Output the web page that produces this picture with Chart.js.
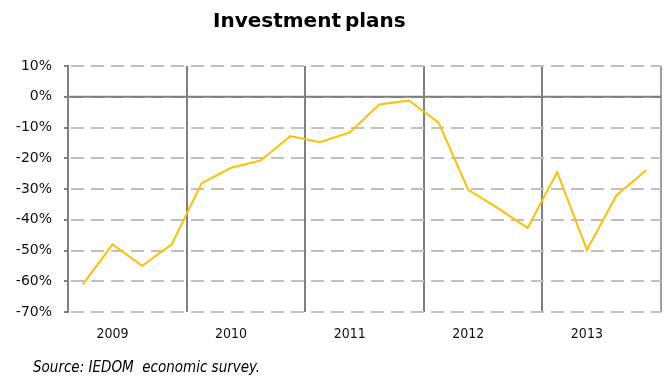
<!DOCTYPE html>
<html>
<head>
<meta charset="utf-8">
<script src="https://cdn.jsdelivr.net/npm/chart.js@4/dist/chart.umd.min.js"></script>
<style>
  html, body { margin: 0; padding: 0; background: #fff; }
  #wrap { position: relative; width: 668px; height: 376px; overflow: hidden; }
  #chart { position: absolute; left: 0; top: 0; }
  #title {
    position: absolute; left: 213px; top: 10px;
    font: bold 20px 'DejaVu Sans', sans-serif; line-height: 20px;
    word-spacing: -3px; color: #000; white-space: pre;
  }
  #source {
    position: absolute; left: 33px; top: 360px;
    font: italic 15px 'DejaVu Sans Condensed', 'DejaVu Sans', sans-serif; line-height: 15px;
    color: #000; white-space: pre;
  }
</style>
</head>
<body>
<div id="wrap">
  <canvas id="chart" width="668" height="376"></canvas>
  <div id="title">Investment plans</div>
  <div id="source">Source: IEDOM  economic survey.</div>
</div>
<script>
// Quarterly balance of investment plans, 2009–2013 (%)
const years = ['2009', '2010', '2011', '2012', '2013'];
const quarters = ['2009Q1', '2009Q2', '2009Q3', '2009Q4',
                  '2010Q1', '2010Q2', '2010Q3', '2010Q4',
                  '2011Q1', '2011Q2', '2011Q3', '2011Q4',
                  '2012Q1', '2012Q2', '2012Q3', '2012Q4',
                  '2013Q1', '2013Q2', '2013Q3', '2013Q4'];
const investmentPlans = [-61, -48, -55, -48,
                         -28.2, -23.1, -20.7, -12.8,
                         -14.8, -11.6, -2.5, -1.2,
                         -8.4, -30.3, -36.2, -42.7,
                         -24.5, -49.8, -32.0, -23.9];
const yTicks = [10, 0, -10, -20, -30, -40, -50, -60, -70];

const AXIS_GREY = '#808080';
const GRID_GREY = '#c0c0c0';

// Solid zero line over the dashed horizontal grid
const zeroLine = {
  id: 'zeroLine',
  beforeDatasetsDraw(chart) {
    const { ctx, chartArea, scales } = chart;
    const y = scales.y.getPixelForValue(0);
    ctx.save();
    ctx.strokeStyle = AXIS_GREY;
    ctx.lineWidth = 2;
    ctx.beginPath();
    ctx.moveTo(chartArea.left, y);
    ctx.lineTo(chartArea.right, y);
    ctx.stroke();
    ctx.restore();
  }
};

new Chart(document.getElementById('chart'), {
  type: 'line',
  data: {
    labels: quarters,
    datasets: [{
      data: investmentPlans,
      borderColor: '#ffc000',
      borderWidth: 2,
      pointRadius: 0,
      tension: 0,
      fill: false
    }]
  },
  options: {
    responsive: false,
    animation: false,
    devicePixelRatio: 1,
    layout: { padding: { left: 0, right: 7, top: 66, bottom: 0 } },
    plugins: { legend: { display: false }, tooltip: { enabled: false }, title: { display: false } },
    scales: {
      x: {
        type: 'category',
        offset: true,
        afterFit(scale) { scale.height = 64; },
        grid: {
          offset: true,
          drawTicks: false,
          lineWidth: 2,
          color(ctx) {
            if (ctx.index === undefined) return '#a0a0a0';
            return ctx.index % 4 === 0 ? AXIS_GREY : 'rgba(0,0,0,0)';
          }
        },
        border: { display: false },
        ticks: {
          autoSkip: false,
          maxRotation: 0,
          minRotation: 0,
          padding: 14,
          color: '#111',
          font: { family: "'DejaVu Sans Condensed', 'DejaVu Sans', sans-serif", size: 14 },
          callback(value, index) { return index % 4 === 1 ? years[Math.floor(index / 4)] : ''; }
        }
      },
      y: {
        min: -70,
        max: 10,
        afterFit(scale) { scale.width = 68; },
        afterBuildTicks(scale) { scale.ticks = yTicks.map(v => ({ value: v })); },
        grid: {
          lineWidth: 2,
          tickLength: 4,
          color(ctx) { return ctx.tick && ctx.tick.value === 0 ? AXIS_GREY : GRID_GREY; },
          tickColor: AXIS_GREY,
          tickWidth: 2
        },
        border: { display: true, color: AXIS_GREY, width: 2, dash: [13, 7], dashOffset: -2 },
        ticks: {
          padding: 12,
          color: '#111',
          font: { family: "'DejaVu Sans', sans-serif", size: 14 },
          callback(v) { return v + '%'; }
        }
      }
    }
  },
  plugins: [zeroLine]
});
</script>
</body>
</html>
